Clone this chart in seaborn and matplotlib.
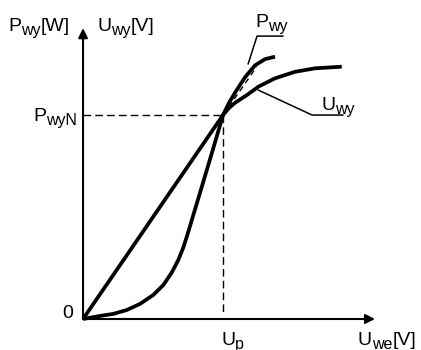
import numpy as np
import pandas as pd
import seaborn as sns
import matplotlib.pyplot as plt

sns.set_style('white')
plt.rcParams['font.family'] = ['Liberation Sans', 'DejaVu Sans']
plt.rcParams['text.color'] = 'black'

# input voltage in units of U_p, outputs in units of P_wyN
u_we_p = [0.0, 0.121, 0.216, 0.312, 0.407, 0.502, 0.574, 0.634, 0.681, 0.716,
          0.745, 0.812, 0.907, 1.0, 1.043, 1.086, 1.157, 1.229, 1.3, 1.371]
p_wy = [0.0, 0.015, 0.025, 0.044, 0.074, 0.118, 0.167, 0.228, 0.29, 0.35,
        0.412, 0.565, 0.783, 1.0, 1.06, 1.11, 1.185, 1.244, 1.274, 1.286]

u_we_u = [0.0, 0.5, 0.96, 1.0, 1.04, 1.086, 1.181, 1.252, 1.371, 1.514, 1.657, 1.848]
u_wy = [0.0, 0.5, 0.96, 1.0, 1.033, 1.06, 1.103, 1.139, 1.18, 1.212, 1.229, 1.237]

u_p = 1.0
p_wyN = 1.0

df_p = pd.DataFrame({'u': u_we_p, 'v': p_wy})
df_u = pd.DataFrame({'u': u_we_u, 'v': u_wy})

fig = plt.figure(figsize=(4.21, 3.5), dpi=100)
ax = fig.add_axes([0, 0, 1, 1])

sns.lineplot(data=df_p, x='u', y='v', sort=False, estimator=None, color='black',
             lw=2.7, solid_joinstyle='round', solid_capstyle='butt', ax=ax)
sns.lineplot(data=df_u, x='u', y='v', sort=False, estimator=None, color='black',
             lw=2.7, solid_joinstyle='round', solid_capstyle='butt', ax=ax)

ax.set_xlim(-0.593, 2.414)
ax.set_ylim(-0.152, 1.564)
ax.axis('off')

# axes with arrows
arrow = dict(arrowstyle='-|>', lw=1.5, color='black', mutation_scale=14, shrinkA=0, shrinkB=0)
ax.annotate('', xy=(0, 1.426), xytext=(0, 0), arrowprops=arrow)
ax.annotate('', xy=(2.086, 0), xytext=(0, 0), arrowprops=arrow)

# dashed helper lines
dash = (0, (5.5, 3))
ax.plot([0, u_p], [p_wyN, p_wyN], color='black', lw=1.0, ls=dash)
ax.plot([u_p, u_p], [p_wyN, 0.029], color='black', lw=1.0, ls=dash)
ax.plot([u_p, 1.241], [p_wyN, 1.237], color='black', lw=1.0, ls=(0, (4, 3)))

# leader lines
ax.plot([1.179, 1.243, 1.429], [1.25, 1.387, 1.387], color='black', lw=1.1)
ax.plot([1.25, 1.636, 1.857], [1.123, 1.0, 1.0], color='black', lw=1.1)


def label(x, y, base, sub, rest=''):
    t = ax.text(x, y, base, fontsize=14, va='baseline', ha='left')
    s = ax.annotate(sub, xy=(1, 0), xycoords=t, xytext=(0, -2.4),
                    textcoords='offset points', fontsize=11.5, va='bottom', ha='left')
    if rest:
        ax.annotate(rest, xy=(1, 0), xycoords=(s, t), xytext=(0, 0),
                    textcoords='offset points', fontsize=14, va='bottom', ha='left')


label(-0.536, 1.412, 'P', 'wy', '[W]')
label(0.1, 1.412, 'U', 'wy', '[V]')
label(-0.357, 0.971, 'P', 'wyN')
ax.text(-0.107, 0.029, '0', fontsize=14, va='center', ha='center')
label(0.986, -0.127, 'U', 'p')
label(1.964, -0.127, 'U', 'we', '[V]')
label(1.229, 1.431, 'P', 'wy')
label(1.7, 1.025, 'U', 'wy')

fig.savefig('out.png', dpi=100)
